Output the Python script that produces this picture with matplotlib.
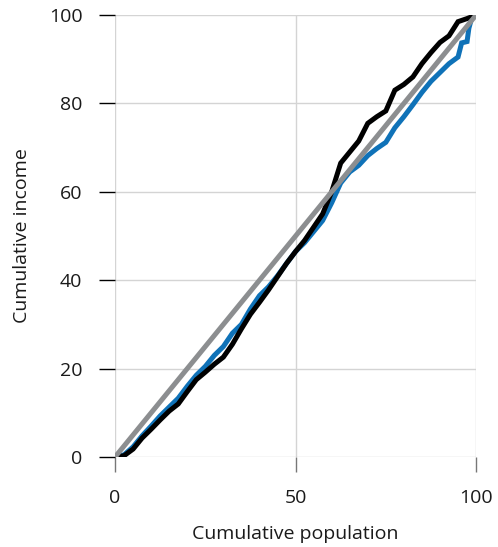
import numpy as np
import matplotlib
matplotlib.use("Agg")
import matplotlib.pyplot as plt

plt.rcParams['font.family'] = ['Open Sans', 'DejaVu Sans']

# equality line
equal_x = [0, 100]
equal_y = [0, 100]

# first distribution (black)
black_x = [0, 2.5, 5, 7.5, 10, 12.5, 15, 17.5, 20, 22.5, 25, 27.5, 30, 32.5, 35,
           37.5, 40, 42.5, 45, 47.5, 50, 52.5, 55, 57.5, 60, 62.5, 65, 67.5, 70,
           72.5, 75, 77.5, 80, 82.5, 85, 87.5, 90, 92.5, 95, 97.5, 100]
black_y = [0, 0.3, 1.8, 4.3, 6.3, 8.4, 10.4, 12.0, 14.8, 17.5, 19.2, 21.0, 22.6,
           25.5, 29.0, 32.3, 35.0, 37.8, 40.8, 43.8, 46.5, 49.0, 52.0, 55.0, 60.0,
           66.5, 69.0, 71.5, 75.5, 77.0, 78.3, 83.0, 84.3, 86.0, 89.0, 91.5, 93.8,
           95.3, 98.5, 99.2, 100]

# second distribution (blue)
blue_x = [0, 2.5, 5, 7.5, 10, 12.5, 15, 17.5, 20, 22.5, 25, 27.5, 30, 32.5, 35,
          37.5, 40, 42.5, 45, 47.5, 50, 52.5, 55, 57.5, 60, 62.5, 65, 67.5, 70,
          72.5, 75, 77.5, 80, 82.5, 85, 87.5, 90, 92.5, 95, 96, 97.5, 98, 99, 100]
blue_y = [0, 0.5, 2.3, 4.8, 7.0, 9.3, 11.3, 13.3, 16.0, 18.5, 20.5, 23.0, 25.0,
          28.0, 30.0, 33.5, 36.5, 38.5, 41.0, 43.8, 46.5, 48.5, 51.0, 53.5, 57.5,
          62.0, 64.5, 66.0, 68.2, 69.8, 71.2, 74.5, 77.0, 79.7, 82.5, 85.0, 87.0,
          89.0, 90.5, 93.7, 94.0, 97.0, 100, 100]

xticks = [0, 50, 100]
yticks = [0, 20, 40, 60, 80, 100]

fig = plt.figure(figsize=(4.98, 5.47), dpi=100)
ax = fig.add_axes([0.231, 0.1645, 0.725, 0.808])

ax.plot(blue_x, blue_y, color='#0f72b8', lw=3.6, solid_joinstyle='miter', zorder=3)
ax.plot(black_x, black_y, color='black', lw=3.6, solid_joinstyle='miter', zorder=4)
ax.plot(equal_x, equal_y, color='#8c8e90', lw=3.6, solid_capstyle='butt', zorder=5)

ax.set_xlim(0, 100)
ax.set_ylim(0, 100)
ax.set_xticks(xticks)
ax.set_yticks(yticks)
for s in ax.spines.values():
    s.set_visible(False)
ax.grid(True, color='#d4d4d4', lw=1)
ax.set_axisbelow(True)

ax.tick_params(axis='y', length=11.5, width=1, color='black', pad=12, labelsize=14,
               labelcolor='#1a1a1a')
ax.tick_params(axis='x', length=11, width=1, color='#777777', pad=12, labelsize=14,
               labelcolor='#1a1a1a')
ax.xaxis.get_ticklines()[4].set_color('black')

ax.set_xlabel('Cumulative population', fontsize=14, labelpad=13, color='#1a1a1a')
ax.set_ylabel('Cumulative income', fontsize=14, labelpad=13, color='#1a1a1a')

fig.savefig('out.png', dpi=100)
